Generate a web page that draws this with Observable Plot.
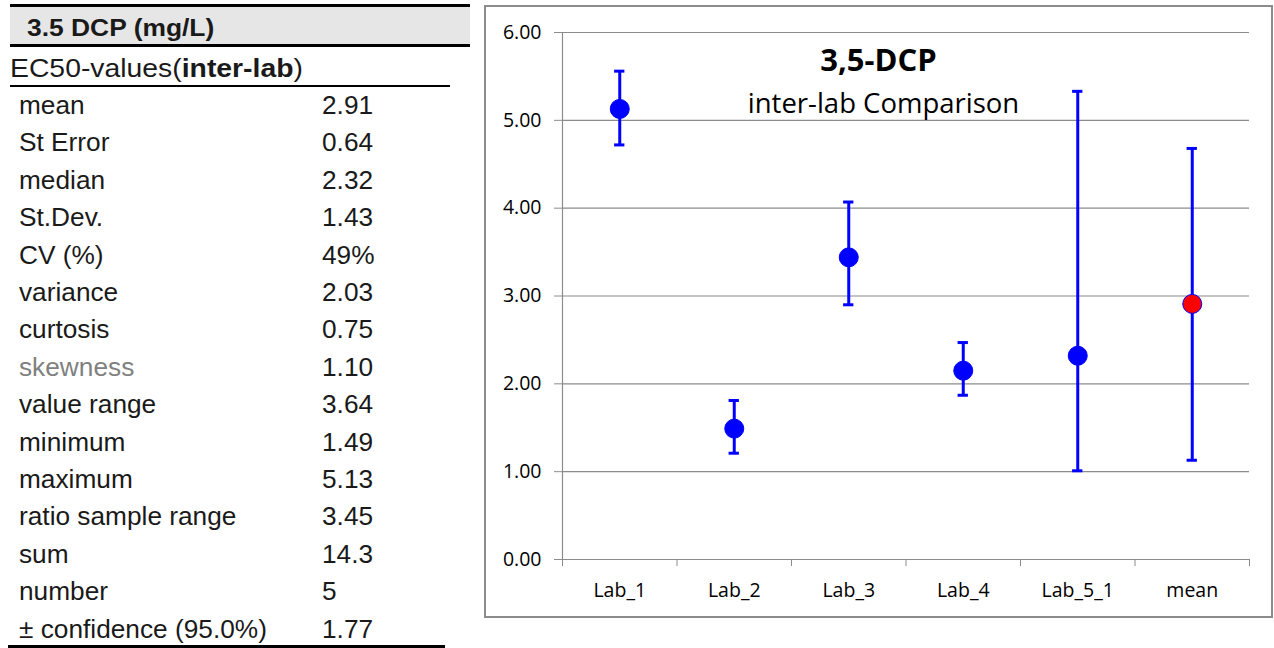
<!DOCTYPE html>
<html>
<head>
<meta charset="utf-8">
<script src="https://cdn.jsdelivr.net/npm/d3@7"></script>
<script src="https://cdn.jsdelivr.net/npm/@observablehq/plot@0.6"></script>
<style>
  html, body { margin: 0; padding: 0; background: #fff; }
  body { width: 1274px; height: 648px; position: relative; overflow: hidden; font-family: "Liberation Sans", Arial, sans-serif; }
  .tbl { position: absolute; left: 0; top: 0; width: 480px; height: 648px; color: #1a1a1a; }
  .line { position: absolute; background: #000; }
  .hdr { position: absolute; left: 10px; top: 7px; width: 460px; height: 37px; background: #e6e6e6; }
  .hdr span { position: absolute; left: 17px; top: 0; line-height: 41px; font-weight: bold; font-size: 24px; transform: scaleX(1.1); transform-origin: left center; white-space: nowrap; }
  .sub { position: absolute; left: 10px; top: 47px; line-height: 42px; font-size: 26px; transform: scaleX(1.09); transform-origin: left center; white-space: nowrap; }
  .row { position: absolute; left: 0; width: 470px; font-size: 25px; }
  .row span { position: absolute; transform: scaleX(1.05); transform-origin: left center; white-space: nowrap; }
  .row .l { left: 19px; }
  .row .v { left: 322px; }
  .chartbox { position: absolute; left: 484px; top: 5px; width: 785px; height: 609px; border: 2.5px solid #8c8c8c; }
  .chartbox svg { position: absolute; left: 0; top: 0; }
  .ttl { position: absolute; left: 0; width: 785px; text-align: center; font-family: "Open Sans", sans-serif; color: #000; line-height: normal; white-space: nowrap; }
</style>
</head>
<body>
<div class="tbl" id="tbl"></div>
<div class="chartbox" id="chart"></div>
<script>
// ---- table data ----
const tableTitle = "3.5 DCP (mg/L)";
const statLabels = ["mean", "St Error", "median", "St.Dev.", "CV (%)", "variance", "curtosis", "skewness",
  "value range", "minimum", "maximum", "ratio sample range", "sum", "number", "± confidence (95.0%)"];
const statValues = ["2.91", "0.64", "2.32", "1.43", "49%", "2.03", "0.75", "1.10",
  "3.64", "1.49", "5.13", "3.45", "14.3", "5", "1.77"];

// ---- chart data ----
const chartTitle = "3,5-DCP";
const chartSubtitle = "inter-lab Comparison";
const labs = ["Lab_1", "Lab_2", "Lab_3", "Lab_4", "Lab_5_1", "mean"];
const ec50 = [5.13, 1.49, 3.44, 2.15, 2.32, 2.91];
const lower = [4.72, 1.21, 2.90, 1.87, 1.01, 1.13];
const upper = [5.56, 1.81, 4.07, 2.47, 5.33, 4.68];
const pointColors = ["#0000ff", "#0000ff", "#0000ff", "#0000ff", "#0000ff", "#ff0000"];
const yTicks = [0, 1, 2, 3, 4, 5, 6];

// ---- build table ----
const tbl = document.getElementById("tbl");
tbl.innerHTML = `
  <div class="line" style="left:10px;top:4px;width:460px;height:3px"></div>
  <div class="hdr"><span>${tableTitle}</span></div>
  <div class="line" style="left:10px;top:44px;width:460px;height:2.5px"></div>
  <div class="sub">EC50-values(<b>inter-lab</b>)</div>
  <div class="line" style="left:10px;top:85px;width:440px;height:2px"></div>
  <div class="line" style="left:8px;top:645px;width:437px;height:3px"></div>`;
statLabels.forEach((lab, i) => {
  const r = document.createElement("div");
  r.className = "row";
  r.style.top = (87 + i * 37.4) + "px";
  r.style.lineHeight = "37.4px";
  r.style.height = "37.4px";
  if (lab === "skewness") r.style.color = "#808080";
  r.innerHTML = `<span class="l">${lab}</span><span class="v" style="color:#1a1a1a">${statValues[i]}</span>`;
  tbl.appendChild(r);
});

// ---- chart ----
const data = labs.map((lab, i) => ({lab, pos: i + 0.5, value: ec50[i], lo: lower[i], hi: upper[i], color: pointColors[i]}));
const blue = "#0000ff";
const grey = "#8c8c8c";
const plot = Plot.plot({
  width: 785,
  height: 609,
  marginLeft: 76,
  marginRight: 22,
  marginTop: 25,
  marginBottom: 57,
  style: {fontFamily: "Open Sans, sans-serif", fontSize: "20px", color: "#000", background: "transparent"},
  x: {type: "linear", domain: [0, labs.length]},
  y: {domain: [0, 6]},
  color: {type: "identity"},
  marks: [
    Plot.gridY(yTicks, {stroke: grey, strokeOpacity: 1, strokeWidth: 1.2}),
    Plot.ruleX([0], {stroke: grey, strokeWidth: 1.2}),
    Plot.axisY({ticks: yTicks, tickFormat: d3.format(".2f"), tickSize: 8, tickPadding: 13, stroke: grey, fill: "#000", fontSize: 19.5, label: null}),
    Plot.axisX({ticks: d3.range(labs.length + 1), tickSize: 7, tickFormat: () => "", stroke: grey, label: null}),
    Plot.axisX({ticks: data.map(d => d.pos), tickSize: 0, tickPadding: 24, tickFormat: (p) => labs[Math.round(p - 0.5)], fill: "#000", fontSize: 19.5, label: null}),
    Plot.ruleX(data, {x: "pos", y1: "lo", y2: "hi", stroke: blue, strokeWidth: 3}),
    Plot.ruleY(data, {y: "hi", x1: d => d.pos - 0.045, x2: d => d.pos + 0.045, stroke: blue, strokeWidth: 3}),
    Plot.ruleY(data, {y: "lo", x1: d => d.pos - 0.045, x2: d => d.pos + 0.045, stroke: blue, strokeWidth: 3}),
    Plot.dot(data, {x: "pos", y: "value", r: 9.5, fill: "color", stroke: blue, strokeWidth: 1})
  ]
});
const chart = document.getElementById("chart");
chart.appendChild(plot);
const t1 = document.createElement("div");
t1.className = "ttl";
t1.style.top = "31px"; t1.style.fontSize = "31px"; t1.style.fontWeight = "bold";
t1.textContent = chartTitle;
const t2 = document.createElement("div");
t2.className = "ttl";
t2.style.top = "77px"; t2.style.left = "5px"; t2.style.fontSize = "27.5px";
t2.textContent = chartSubtitle;
chart.appendChild(t1);
chart.appendChild(t2);
</script>
</body>
</html>
